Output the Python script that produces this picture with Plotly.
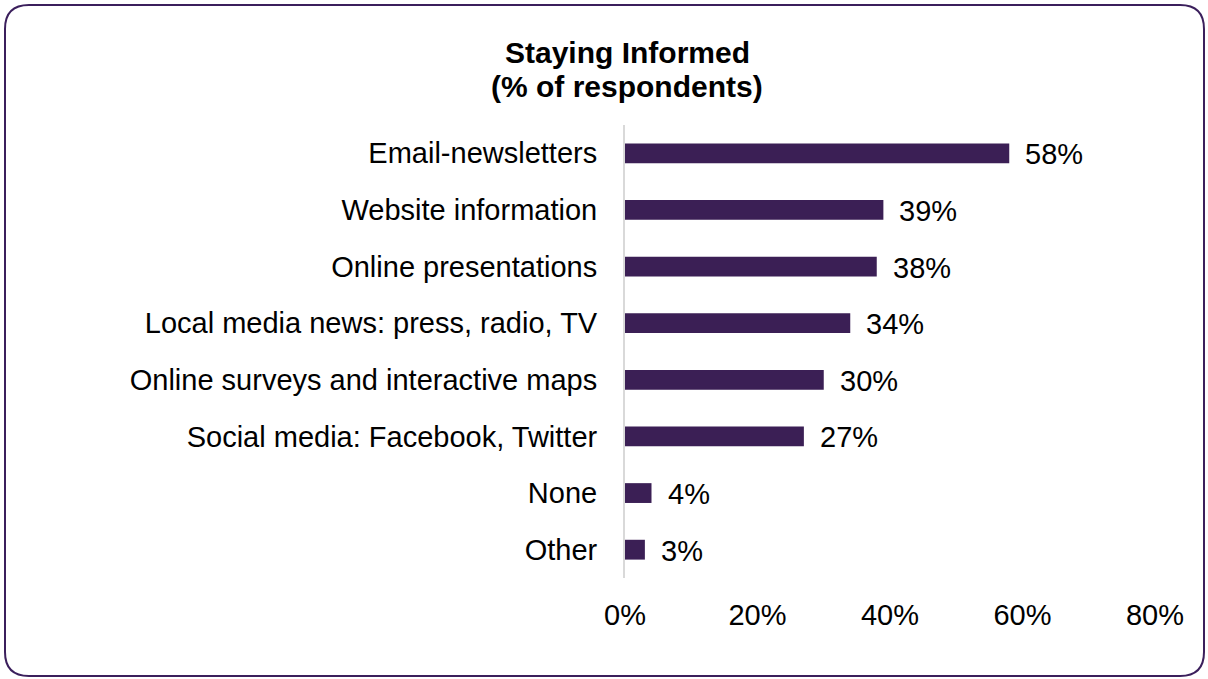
import plotly.graph_objects as go

# Survey results: how respondents stay informed
categories = [
    "Email-newsletters",
    "Website information",
    "Online presentations",
    "Local media news: press, radio, TV",
    "Online surveys and interactive maps",
    "Social media: Facebook, Twitter",
    "None",
    "Other",
]
percent = [58, 39, 38, 34, 30, 27, 4, 3]
tick_values = [0, 20, 40, 60, 80]
title_lines = ["Staying Informed", "(% of respondents)"]

W, H = 1208, 679
L, R, T, B = 625, 53, 125, 101
plot_w = W - L - R
plot_h = H - T - B

BAR = "#3B1F55"
FONT = "Liberation Sans, Arial, sans-serif"


def px_to_paper(px, py):
    return (px - L) / plot_w, (H - B - py) / plot_h


fig = go.Figure(
    go.Bar(
        x=percent,
        y=categories,
        orientation="h",
        marker=dict(color=BAR, line=dict(width=0)),
        width=0.35,
        hoverinfo="skip",
    )
)

# value labels to the right of each bar
for cat, v in zip(categories, percent):
    fig.add_annotation(
        x=v, y=cat, xref="x", yref="y", text=f"{v}%",
        showarrow=False, xanchor="left", yanchor="middle", xshift=14, yshift=-1,
        font=dict(family=FONT, size=29, color="#000000"),
    )

# chart title, two lines
for line, cy in zip(title_lines, [52, 86]):
    tx, ty = px_to_paper(627, cy)
    fig.add_annotation(
        x=tx, y=ty, xref="paper", yref="paper", text=f"<b>{line}</b>",
        showarrow=False, xanchor="center", yanchor="middle",
        font=dict(family=FONT, size=30, color="#000000"),
    )

# rounded frame around the whole chart
x0, y0, x1, y1, rad = 5, 5, 1204, 676, 24


def P(px, py):
    a, b = px_to_paper(px, py)
    return f"{a:.5f},{b:.5f}"


path = (
    f"M {P(x0 + rad, y0)} L {P(x1 - rad, y0)} Q {P(x1, y0)} {P(x1, y0 + rad)} "
    f"L {P(x1, y1 - rad)} Q {P(x1, y1)} {P(x1 - rad, y1)} "
    f"L {P(x0 + rad, y1)} Q {P(x0, y1)} {P(x0, y1 - rad)} "
    f"L {P(x0, y0 + rad)} Q {P(x0, y0)} {P(x0 + rad, y0)} Z"
)
fig.add_shape(type="path", path=path, xref="paper", yref="paper",
              line=dict(color="#3B1F5C", width=2), fillcolor="rgba(0,0,0,0)")

fig.update_layout(
    width=W, height=H,
    margin=dict(l=L, r=R, t=T, b=B),
    paper_bgcolor="white", plot_bgcolor="white",
    showlegend=False,
    font=dict(family=FONT, size=29, color="#000000"),
)
fig.update_xaxes(
    range=[0, 80], tickvals=tick_values, ticktext=[f"{t}%" for t in tick_values],
    showgrid=False, zeroline=False, showline=False,
    ticks="outside", ticklen=11, tickcolor="rgba(0,0,0,0)",
    tickfont=dict(family=FONT, size=29, color="#000000"),
    fixedrange=True,
)
fig.update_yaxes(
    categoryorder="array", categoryarray=categories, autorange="reversed",
    showgrid=False, zeroline=False,
    showline=True, linecolor="#D9D9D9", linewidth=2,
    ticks="outside", ticklen=20, tickcolor="rgba(0,0,0,0)",
    tickfont=dict(family=FONT, size=29, color="#000000"),
    fixedrange=True,
)

fig.write_html("out.html")
